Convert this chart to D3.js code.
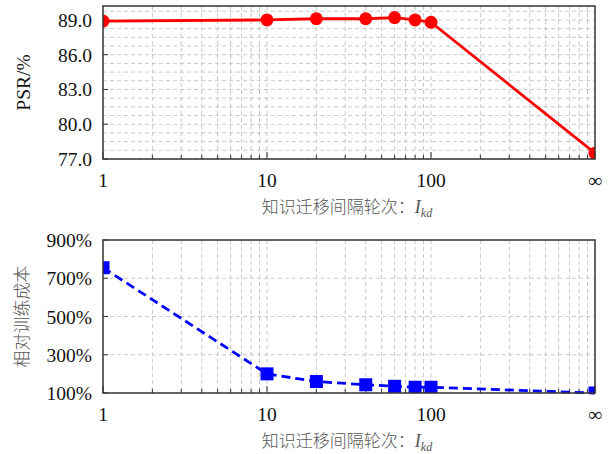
<!DOCTYPE html>
<html lang="zh">
<head>
<meta charset="UTF-8">
<title>PSR 与相对训练成本</title>
<style>
  html, body { margin: 0; padding: 0; background: #fff; }
  svg { display: block; }
  .tick-label { font-family: "Liberation Serif", "DejaVu Serif", serif; font-size: 19.5px; fill: #111; }
  .cn { font-family: "Noto Sans CJK SC", sans-serif; font-size: 17px; fill: #555; font-weight: 300; }
</style>
</head>
<body>
<svg id="chart" width="609" height="454"></svg>
<script src="https://d3js.org/d3.v7.min.js"></script>
<script>
// --- dados ---
const intervals = [1, 10, 20, 40, 60, 80, 100, 1000];   // 1000 = ∞
const psr = [88.9, 89.0, 89.1, 89.1, 89.2, 89.0, 88.8, 77.5];
const cost = [755, 200, 160, 143, 135, 130, 130, 100];
const xTickVals = [1, 10, 100, 1000];
const xTickText = ["1", "10", "100", "∞"];
const psrTicks = [77, 80, 83, 86, 89];
const costTicks = [100, 300, 500, 700, 900];

const svg = d3.select("#chart");
const left = 103, right = 595;

const x = d3.scaleLog().domain([1, 1000]).range([left, right]);
const minorX = [];
[1, 10, 100].forEach(d => { for (let k = 2; k <= 9; k++) minorX.push(d * k); });

function panel(cfg) {
  const { top, bottom, y, yTicks, yMinor, fmt, id } = cfg;
  const g = svg.append("g");

  g.append("clipPath").attr("id", id)
    .append("rect").attr("x", left).attr("y", top).attr("width", right - left).attr("height", bottom - top);

  // grade
  const grid = g.append("g").attr("stroke", "#c8c8c8").attr("stroke-width", 1).attr("stroke-dasharray", "4,3");
  grid.selectAll(".gx").data(minorX.concat(xTickVals.slice(1, 3))).join("line")
    .attr("x1", d => x(d)).attr("x2", d => x(d)).attr("y1", top).attr("y2", bottom);
  grid.selectAll(".gy").data(yMinor).join("line")
    .attr("x1", left).attr("x2", right).attr("y1", d => y(d)).attr("y2", d => y(d));

  // ticks para dentro
  const tk = g.append("g").attr("stroke", "#333").attr("stroke-width", 1);
  tk.selectAll(".mx").data(minorX).join("line")
    .attr("x1", d => x(d)).attr("x2", d => x(d)).attr("y1", bottom).attr("y2", bottom - 4);
  tk.selectAll(".Mx").data(xTickVals).join("line")
    .attr("x1", d => x(d)).attr("x2", d => x(d)).attr("y1", bottom).attr("y2", bottom - 7);
  tk.selectAll(".My").data(yTicks).join("line")
    .attr("x1", left).attr("x2", left + 5).attr("y1", d => y(d)).attr("y2", d => y(d));

  // rótulos
  g.selectAll(".xl").data(xTickVals).join("text").attr("class", "tick-label")
    .attr("x", d => x(d)).attr("y", bottom + 28)
    .attr("text-anchor", "middle").text((d, i) => xTickText[i]);
  g.selectAll(".yl").data(yTicks).join("text").attr("class", "tick-label")
    .attr("x", left - 11).attr("y", d => y(d) + 7)
    .attr("text-anchor", "end").text(fmt);

  // título do eixo x
  const xt = g.append("text").attr("class", "cn").attr("x", (left + right) / 2 - 2).attr("y", bottom + 54)
    .attr("text-anchor", "middle");
  xt.append("tspan").text("知识迁移间隔轮次：");
  xt.append("tspan").attr("font-family", "Liberation Serif, serif").attr("font-style", "italic")
    .attr("font-size", 18).attr("font-weight", 400).text("I");
  xt.append("tspan").attr("font-family", "Liberation Serif, serif").attr("font-style", "italic")
    .attr("font-size", 12).attr("font-weight", 400).attr("dy", 4).text("kd");

  return g;
}

// --- painel superior: PSR ---
const yTop = d3.scaleLinear().domain([77, 90.2]).range([159, 6]);
const psrMinor = d3.range(77, 90.2, 0.75);
const gTop = panel({ top: 6, bottom: 159, y: yTop, yTicks: psrTicks, yMinor: psrMinor, fmt: d => d.toFixed(1), id: "clipTop" });

gTop.append("path").datum(intervals.map((d, i) => [d, psr[i]]))
  .attr("fill", "none").attr("stroke", "#ff0000").attr("stroke-width", 2.8)
  .attr("d", d3.line().x(d => x(d[0])).y(d => yTop(d[1])));
gTop.append("g").attr("clip-path", "url(#clipTop)")
  .selectAll("circle").data(intervals).join("circle")
  .attr("cx", d => x(d)).attr("cy", (d, i) => yTop(psr[i])).attr("r", 6.5).attr("fill", "#ff0000");

gTop.append("rect").attr("x", left).attr("y", 6).attr("width", right - left).attr("height", 153)
  .attr("fill", "none").attr("stroke", "#333").attr("stroke-width", 1.5);

svg.append("text").attr("class", "tick-label").attr("font-size", 21)
  .attr("transform", `translate(30,${(6 + 159) / 2}) rotate(-90)`)
  .attr("text-anchor", "middle").text("PSR/%");

// --- painel inferior: custo ---
const yBot = d3.scaleLinear().domain([100, 900]).range([393, 240]);
const gBot = panel({ top: 240, bottom: 393, y: yBot, yTicks: costTicks, yMinor: [300, 500, 700], fmt: d => d + "%", id: "clipBot" });

gBot.append("path").datum(intervals.map((d, i) => [d, cost[i]]))
  .attr("fill", "none").attr("stroke", "#0000ff").attr("stroke-width", 2.8).attr("stroke-dasharray", "9,5")
  .attr("d", d3.line().x(d => x(d[0])).y(d => yBot(d[1])));
gBot.append("g").attr("clip-path", "url(#clipBot)")
  .selectAll("rect").data(intervals).join("rect")
  .attr("x", d => x(d) - 6.5).attr("y", (d, i) => yBot(cost[i]) - 6.5)
  .attr("width", 13).attr("height", 13).attr("fill", "#0000ff");

gBot.append("rect").attr("x", left).attr("y", 240).attr("width", right - left).attr("height", 153)
  .attr("fill", "none").attr("stroke", "#333").attr("stroke-width", 1.5);

svg.append("text").attr("class", "cn").attr("font-size", 17)
  .attr("transform", `translate(28,${(240 + 393) / 2}) rotate(-90)`)
  .attr("text-anchor", "middle").text("相对训练成本");
</script>
</body>
</html>
